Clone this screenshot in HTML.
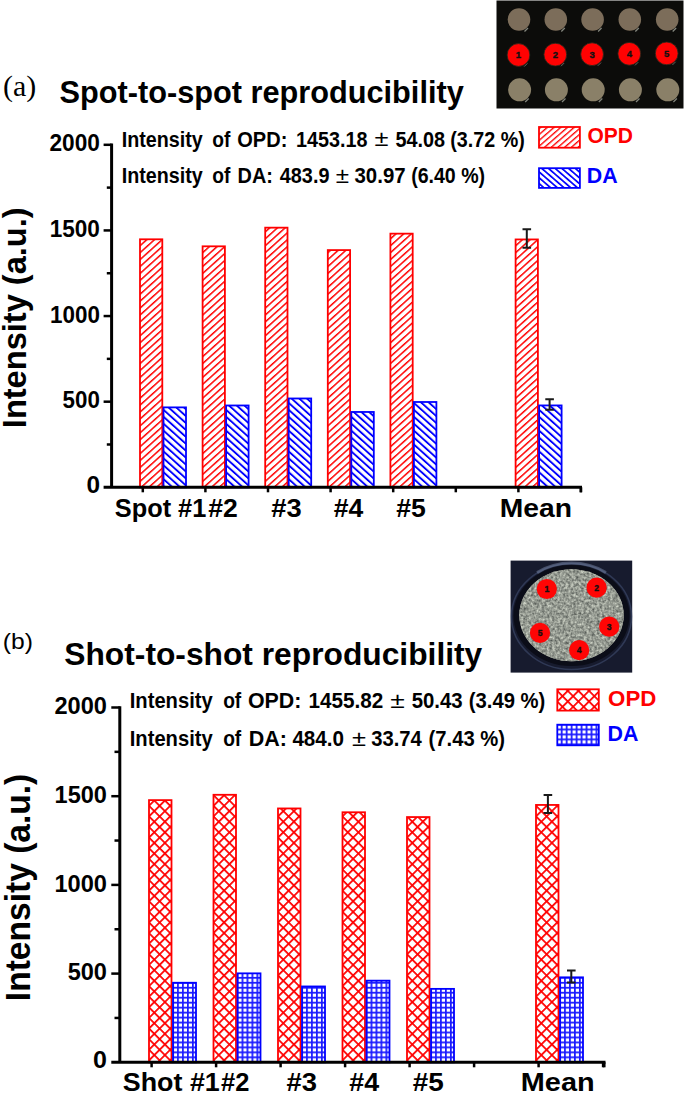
<!DOCTYPE html>
<html><head><meta charset="utf-8"><title>Reproducibility</title>
<style>
html,body{margin:0;padding:0;background:#fff;width:685px;height:1094px;overflow:hidden;}
svg{display:block;}

</style></head>
<body>
<svg width="685" height="1094" viewBox="0 0 685 1094">
<defs>
<filter id="noise" x="0" y="0" width="100%" height="100%" color-interpolation-filters="sRGB">
  <feTurbulence type="fractalNoise" baseFrequency="0.38" numOctaves="2" seed="3" result="n"/>
  <feColorMatrix type="matrix" values="0.7 0 0 0 0.235  0.7 0 0 0 0.255  0.65 0 0 0 0.245  0 0 0 0 1" />
  <feComposite in2="SourceGraphic" operator="in"/>
</filter>
<pattern id="a_opd_0" patternUnits="userSpaceOnUse" width="5.15" height="5.15" patternTransform="translate(140.00 487.30) rotate(48)"><rect x="0" y="0" width="1.5" height="5.15" fill="#ff0000"/></pattern>
<pattern id="a_da_0" patternUnits="userSpaceOnUse" width="5.15" height="5.15" patternTransform="translate(163.50 487.30) rotate(-48)"><rect x="0" y="0" width="1.9" height="5.15" fill="#0000ff"/></pattern>
<pattern id="a_opd_1" patternUnits="userSpaceOnUse" width="5.15" height="5.15" patternTransform="translate(202.60 487.30) rotate(48)"><rect x="0" y="0" width="1.5" height="5.15" fill="#ff0000"/></pattern>
<pattern id="a_da_1" patternUnits="userSpaceOnUse" width="5.15" height="5.15" patternTransform="translate(226.10 487.30) rotate(-48)"><rect x="0" y="0" width="1.9" height="5.15" fill="#0000ff"/></pattern>
<pattern id="a_opd_2" patternUnits="userSpaceOnUse" width="5.15" height="5.15" patternTransform="translate(265.20 487.30) rotate(48)"><rect x="0" y="0" width="1.5" height="5.15" fill="#ff0000"/></pattern>
<pattern id="a_da_2" patternUnits="userSpaceOnUse" width="5.15" height="5.15" patternTransform="translate(288.70 487.30) rotate(-48)"><rect x="0" y="0" width="1.9" height="5.15" fill="#0000ff"/></pattern>
<pattern id="a_opd_3" patternUnits="userSpaceOnUse" width="5.15" height="5.15" patternTransform="translate(327.80 487.30) rotate(48)"><rect x="0" y="0" width="1.5" height="5.15" fill="#ff0000"/></pattern>
<pattern id="a_da_3" patternUnits="userSpaceOnUse" width="5.15" height="5.15" patternTransform="translate(351.30 487.30) rotate(-48)"><rect x="0" y="0" width="1.9" height="5.15" fill="#0000ff"/></pattern>
<pattern id="a_opd_4" patternUnits="userSpaceOnUse" width="5.15" height="5.15" patternTransform="translate(390.40 487.30) rotate(48)"><rect x="0" y="0" width="1.5" height="5.15" fill="#ff0000"/></pattern>
<pattern id="a_da_4" patternUnits="userSpaceOnUse" width="5.15" height="5.15" patternTransform="translate(413.90 487.30) rotate(-48)"><rect x="0" y="0" width="1.9" height="5.15" fill="#0000ff"/></pattern>
<pattern id="a_opd_5" patternUnits="userSpaceOnUse" width="5.15" height="5.15" patternTransform="translate(515.60 487.30) rotate(48)"><rect x="0" y="0" width="1.5" height="5.15" fill="#ff0000"/></pattern>
<pattern id="a_da_5" patternUnits="userSpaceOnUse" width="5.15" height="5.15" patternTransform="translate(539.10 487.30) rotate(-48)"><rect x="0" y="0" width="1.9" height="5.15" fill="#0000ff"/></pattern>
<pattern id="b_opd_0" patternUnits="userSpaceOnUse" width="7.50" height="7.50" patternTransform="translate(149.00 1059.10) rotate(45)"><rect x="0" y="0" width="1.75" height="7.5" fill="#ff0000"/><rect x="0" y="0" width="7.5" height="1.75" fill="#ff0000"/></pattern>
<pattern id="b_da_0" patternUnits="userSpaceOnUse" width="4.97" height="4.97" patternTransform="translate(172.10 1061.40) rotate(0)"><rect x="0" y="0" width="1.75" height="4.97" fill="#1a1aff"/><rect x="0" y="0" width="4.97" height="1.75" fill="#1a1aff"/></pattern>
<pattern id="b_opd_1" patternUnits="userSpaceOnUse" width="7.50" height="7.50" patternTransform="translate(213.50 1059.10) rotate(45)"><rect x="0" y="0" width="1.75" height="7.5" fill="#ff0000"/><rect x="0" y="0" width="7.5" height="1.75" fill="#ff0000"/></pattern>
<pattern id="b_da_1" patternUnits="userSpaceOnUse" width="4.97" height="4.97" patternTransform="translate(236.60 1061.40) rotate(0)"><rect x="0" y="0" width="1.75" height="4.97" fill="#1a1aff"/><rect x="0" y="0" width="4.97" height="1.75" fill="#1a1aff"/></pattern>
<pattern id="b_opd_2" patternUnits="userSpaceOnUse" width="7.50" height="7.50" patternTransform="translate(278.00 1059.10) rotate(45)"><rect x="0" y="0" width="1.75" height="7.5" fill="#ff0000"/><rect x="0" y="0" width="7.5" height="1.75" fill="#ff0000"/></pattern>
<pattern id="b_da_2" patternUnits="userSpaceOnUse" width="4.97" height="4.97" patternTransform="translate(301.10 1061.40) rotate(0)"><rect x="0" y="0" width="1.75" height="4.97" fill="#1a1aff"/><rect x="0" y="0" width="4.97" height="1.75" fill="#1a1aff"/></pattern>
<pattern id="b_opd_3" patternUnits="userSpaceOnUse" width="7.50" height="7.50" patternTransform="translate(342.50 1059.10) rotate(45)"><rect x="0" y="0" width="1.75" height="7.5" fill="#ff0000"/><rect x="0" y="0" width="7.5" height="1.75" fill="#ff0000"/></pattern>
<pattern id="b_da_3" patternUnits="userSpaceOnUse" width="4.97" height="4.97" patternTransform="translate(365.60 1061.40) rotate(0)"><rect x="0" y="0" width="1.75" height="4.97" fill="#1a1aff"/><rect x="0" y="0" width="4.97" height="1.75" fill="#1a1aff"/></pattern>
<pattern id="b_opd_4" patternUnits="userSpaceOnUse" width="7.50" height="7.50" patternTransform="translate(407.00 1059.10) rotate(45)"><rect x="0" y="0" width="1.75" height="7.5" fill="#ff0000"/><rect x="0" y="0" width="7.5" height="1.75" fill="#ff0000"/></pattern>
<pattern id="b_da_4" patternUnits="userSpaceOnUse" width="4.97" height="4.97" patternTransform="translate(430.10 1061.40) rotate(0)"><rect x="0" y="0" width="1.75" height="4.97" fill="#1a1aff"/><rect x="0" y="0" width="4.97" height="1.75" fill="#1a1aff"/></pattern>
<pattern id="b_opd_5" patternUnits="userSpaceOnUse" width="7.50" height="7.50" patternTransform="translate(536.00 1059.10) rotate(45)"><rect x="0" y="0" width="1.75" height="7.5" fill="#ff0000"/><rect x="0" y="0" width="7.5" height="1.75" fill="#ff0000"/></pattern>
<pattern id="b_da_5" patternUnits="userSpaceOnUse" width="4.97" height="4.97" patternTransform="translate(559.10 1061.40) rotate(0)"><rect x="0" y="0" width="1.75" height="4.97" fill="#1a1aff"/><rect x="0" y="0" width="4.97" height="1.75" fill="#1a1aff"/></pattern>
<pattern id="la_opd" patternUnits="userSpaceOnUse" width="4.40" height="4.40" patternTransform="translate(540.00 127.00) rotate(49)"><rect x="0" y="0" width="1.35" height="4.4" fill="#ff0000"/></pattern>
<pattern id="la_da" patternUnits="userSpaceOnUse" width="4.40" height="4.40" patternTransform="translate(540.00 168.00) rotate(-49)"><rect x="0" y="0" width="1.7" height="4.4" fill="#0000ff"/></pattern>
<pattern id="lb_opd" patternUnits="userSpaceOnUse" width="7.50" height="7.50" patternTransform="translate(562.50 694.90) rotate(45)"><rect x="0" y="0" width="1.75" height="7.5" fill="#ff0000"/><rect x="0" y="0" width="7.5" height="1.75" fill="#ff0000"/></pattern>
<pattern id="lb_da" patternUnits="userSpaceOnUse" width="4.97" height="4.97" patternTransform="translate(555.80 723.60) rotate(0)"><rect x="0" y="0" width="1.75" height="4.97" fill="#1a1aff"/><rect x="0" y="0" width="4.97" height="1.75" fill="#1a1aff"/></pattern></defs>
<rect x="0" y="0" width="685" height="1094" fill="#fff"/>
<rect x="496.5" y="0.5" width="187" height="108" fill="#0c0c0a"/>
<circle cx="519.0" cy="19.5" r="11.3" fill="#7c6d5a"/>
<circle cx="519.6" cy="89.8" r="11.5" fill="#8a8068"/>
<path d="M524.5 31.5 l3.5 -3.5" stroke="#b8bcb0" stroke-width="1.2" opacity="0.7"/>
<path d="M525.2 102.0 l3.5 -3.5" stroke="#b8bcb0" stroke-width="1.2" opacity="0.7"/>
<path d="M524.2 66.6 l3.2 -3.2" stroke="#9aa09a" stroke-width="1.0" opacity="0.6"/>
<circle cx="518.5" cy="55.0" r="11.4" fill="#ff0202" stroke="#1c2a1c" stroke-width="0.8"/>
<text x="518.5" y="58.4" font-family="'Liberation Sans',sans-serif" font-weight="bold" font-size="9.5" text-anchor="middle" fill="#111" stroke="#111" stroke-width="0.35">1</text>
<circle cx="555.8" cy="19.5" r="11.3" fill="#7c6d5a"/>
<circle cx="556.4" cy="89.8" r="11.5" fill="#8a8068"/>
<path d="M561.3 31.5 l3.5 -3.5" stroke="#b8bcb0" stroke-width="1.2" opacity="0.7"/>
<path d="M562.0 102.0 l3.5 -3.5" stroke="#b8bcb0" stroke-width="1.2" opacity="0.7"/>
<path d="M561.0 66.2 l3.2 -3.2" stroke="#9aa09a" stroke-width="1.0" opacity="0.6"/>
<circle cx="555.3" cy="54.6" r="11.4" fill="#ff0202" stroke="#1c2a1c" stroke-width="0.8"/>
<text x="555.3" y="58.0" font-family="'Liberation Sans',sans-serif" font-weight="bold" font-size="9.5" text-anchor="middle" fill="#111" stroke="#111" stroke-width="0.35">2</text>
<circle cx="592.6" cy="19.5" r="11.3" fill="#7c6d5a"/>
<circle cx="593.2" cy="89.8" r="11.5" fill="#8a8068"/>
<path d="M598.1 31.5 l3.5 -3.5" stroke="#b8bcb0" stroke-width="1.2" opacity="0.7"/>
<path d="M598.8 102.0 l3.5 -3.5" stroke="#b8bcb0" stroke-width="1.2" opacity="0.7"/>
<path d="M597.8 65.8 l3.2 -3.2" stroke="#9aa09a" stroke-width="1.0" opacity="0.6"/>
<circle cx="592.1" cy="54.2" r="11.4" fill="#ff0202" stroke="#1c2a1c" stroke-width="0.8"/>
<text x="592.1" y="57.6" font-family="'Liberation Sans',sans-serif" font-weight="bold" font-size="9.5" text-anchor="middle" fill="#111" stroke="#111" stroke-width="0.35">3</text>
<circle cx="629.8" cy="19.5" r="11.3" fill="#7c6d5a"/>
<circle cx="630.4" cy="89.8" r="11.5" fill="#8a8068"/>
<path d="M635.3 31.5 l3.5 -3.5" stroke="#b8bcb0" stroke-width="1.2" opacity="0.7"/>
<path d="M636.0 102.0 l3.5 -3.5" stroke="#b8bcb0" stroke-width="1.2" opacity="0.7"/>
<path d="M635.0 65.4 l3.2 -3.2" stroke="#9aa09a" stroke-width="1.0" opacity="0.6"/>
<circle cx="629.3" cy="53.8" r="11.4" fill="#ff0202" stroke="#1c2a1c" stroke-width="0.8"/>
<text x="629.3" y="57.2" font-family="'Liberation Sans',sans-serif" font-weight="bold" font-size="9.5" text-anchor="middle" fill="#111" stroke="#111" stroke-width="0.35">4</text>
<circle cx="667.2" cy="19.5" r="11.3" fill="#7c6d5a"/>
<circle cx="667.8" cy="89.8" r="11.5" fill="#8a8068"/>
<path d="M672.7 31.5 l3.5 -3.5" stroke="#b8bcb0" stroke-width="1.2" opacity="0.7"/>
<path d="M673.4 102.0 l3.5 -3.5" stroke="#b8bcb0" stroke-width="1.2" opacity="0.7"/>
<path d="M672.4 65.0 l3.2 -3.2" stroke="#9aa09a" stroke-width="1.0" opacity="0.6"/>
<circle cx="666.7" cy="53.4" r="11.4" fill="#ff0202" stroke="#1c2a1c" stroke-width="0.8"/>
<text x="666.7" y="56.8" font-family="'Liberation Sans',sans-serif" font-weight="bold" font-size="9.5" text-anchor="middle" fill="#111" stroke="#111" stroke-width="0.35">5</text>
<rect x="510.6" y="560.6" width="121.6" height="112" fill="#171b2e"/>
<ellipse cx="571.5" cy="616.5" rx="60" ry="53" fill="none" stroke="#3a4666" stroke-width="1.6" opacity="0.7"/>
<ellipse cx="571.5" cy="615.6" rx="58" ry="50.5" fill="#0b0d18"/>
<ellipse cx="571.5" cy="615.2" rx="52.2" ry="46" fill="#9a9d90"/>
<ellipse cx="571.5" cy="615.2" rx="52.2" ry="46" fill="#9a9d90" filter="url(#noise)"/>
<path d="M537.1 572.6 A60.0 52.5 0 0 1 605.9 572.6" stroke="#7886a6" stroke-width="3" fill="none" opacity="0.5"/>
<circle cx="546.8" cy="589.0" r="10.1" fill="#ff0505"/>
<text x="546.8" y="592.1" font-family="'Liberation Sans',sans-serif" font-weight="bold" font-size="8.5" text-anchor="middle" fill="#111" stroke="#111" stroke-width="0.35">1</text>
<circle cx="596.6" cy="587.7" r="10.1" fill="#ff0505"/>
<text x="596.6" y="590.8" font-family="'Liberation Sans',sans-serif" font-weight="bold" font-size="8.5" text-anchor="middle" fill="#111" stroke="#111" stroke-width="0.35">2</text>
<circle cx="609.2" cy="626.7" r="10.1" fill="#ff0505"/>
<text x="609.2" y="629.8" font-family="'Liberation Sans',sans-serif" font-weight="bold" font-size="8.5" text-anchor="middle" fill="#111" stroke="#111" stroke-width="0.35">3</text>
<circle cx="579.2" cy="650.2" r="10.1" fill="#ff0505"/>
<text x="579.2" y="653.3" font-family="'Liberation Sans',sans-serif" font-weight="bold" font-size="8.5" text-anchor="middle" fill="#111" stroke="#111" stroke-width="0.35">4</text>
<circle cx="540.0" cy="632.8" r="10.1" fill="#ff0505"/>
<text x="540.0" y="635.9" font-family="'Liberation Sans',sans-serif" font-weight="bold" font-size="8.5" text-anchor="middle" fill="#111" stroke="#111" stroke-width="0.35">5</text>
<rect x="140.00" y="239.30" width="22.30" height="248.00" fill="url(#a_opd_0)" stroke="#ff0000" stroke-width="1.80"/>
<rect x="163.50" y="407.38" width="22.50" height="79.92" fill="url(#a_da_0)" stroke="#0000ff" stroke-width="1.80"/>
<rect x="202.60" y="246.32" width="22.30" height="240.98" fill="url(#a_opd_1)" stroke="#ff0000" stroke-width="1.80"/>
<rect x="226.10" y="405.48" width="22.50" height="81.82" fill="url(#a_da_1)" stroke="#0000ff" stroke-width="1.80"/>
<rect x="265.20" y="227.66" width="22.30" height="259.64" fill="url(#a_opd_2)" stroke="#ff0000" stroke-width="1.80"/>
<rect x="288.70" y="398.48" width="22.50" height="88.82" fill="url(#a_da_2)" stroke="#0000ff" stroke-width="1.80"/>
<rect x="327.80" y="250.09" width="22.30" height="237.21" fill="url(#a_opd_3)" stroke="#ff0000" stroke-width="1.80"/>
<rect x="351.30" y="411.97" width="22.50" height="75.33" fill="url(#a_da_3)" stroke="#0000ff" stroke-width="1.80"/>
<rect x="390.40" y="233.65" width="22.30" height="253.65" fill="url(#a_opd_4)" stroke="#ff0000" stroke-width="1.80"/>
<rect x="413.90" y="401.99" width="22.50" height="85.31" fill="url(#a_da_4)" stroke="#0000ff" stroke-width="1.80"/>
<rect x="515.60" y="239.44" width="22.30" height="247.86" fill="url(#a_opd_5)" stroke="#ff0000" stroke-width="1.80"/>
<rect x="539.10" y="405.43" width="22.50" height="81.87" fill="url(#a_da_5)" stroke="#0000ff" stroke-width="1.80"/>
<path d="M526.80 229.18V247.70M522.50 229.18H531.10M522.50 247.70H531.10" stroke="#1a1a1a" stroke-width="2" fill="none"/>
<path d="M549.60 399.13V409.74M545.30 399.13H553.90M545.30 409.74H553.90" stroke="#1a1a1a" stroke-width="2" fill="none"/>
<path d="M111.60 143.60V487.30" stroke="#000" stroke-width="3" fill="none"/>
<path d="M103.60 487.30H582.00" stroke="#000" stroke-width="3" fill="none"/>
<path d="M103.60 401.68H111.60" stroke="#000" stroke-width="2.5" fill="none"/>
<path d="M103.60 316.05H111.60" stroke="#000" stroke-width="2.5" fill="none"/>
<path d="M103.60 230.43H111.60" stroke="#000" stroke-width="2.5" fill="none"/>
<path d="M103.60 144.80H111.60" stroke="#000" stroke-width="2.5" fill="none"/>
<path d="M106.80 444.49H111.60" stroke="#000" stroke-width="2.5" fill="none"/>
<path d="M106.80 358.86H111.60" stroke="#000" stroke-width="2.5" fill="none"/>
<path d="M106.80 273.24H111.60" stroke="#000" stroke-width="2.5" fill="none"/>
<path d="M106.80 187.61H111.60" stroke="#000" stroke-width="2.5" fill="none"/>
<path d="M142.80 487.30V492.30" stroke="#000" stroke-width="2.5" fill="none"/>
<path d="M205.40 487.30V492.30" stroke="#000" stroke-width="2.5" fill="none"/>
<path d="M268.00 487.30V492.30" stroke="#000" stroke-width="2.5" fill="none"/>
<path d="M330.60 487.30V492.30" stroke="#000" stroke-width="2.5" fill="none"/>
<path d="M393.20 487.30V492.30" stroke="#000" stroke-width="2.5" fill="none"/>
<path d="M455.80 487.30V492.30" stroke="#000" stroke-width="2.5" fill="none"/>
<path d="M518.40 487.30V492.30" stroke="#000" stroke-width="2.5" fill="none"/>
<path d="M581.00 487.30V492.30" stroke="#000" stroke-width="2.5" fill="none"/>
<path d="M580.80 487.30V492.30" stroke="#000" stroke-width="2.5" fill="none"/>
<rect x="149.00" y="800.12" width="22.50" height="262.18" fill="url(#b_opd_0)" stroke="#ff0000" stroke-width="1.80"/>
<rect x="173.00" y="982.75" width="23.00" height="79.55" fill="url(#b_da_0)" stroke="#0000ff" stroke-width="1.80"/>
<rect x="213.50" y="794.79" width="22.50" height="267.51" fill="url(#b_opd_1)" stroke="#ff0000" stroke-width="1.80"/>
<rect x="237.50" y="973.35" width="23.00" height="88.95" fill="url(#b_da_1)" stroke="#0000ff" stroke-width="1.80"/>
<rect x="278.00" y="808.45" width="22.50" height="253.85" fill="url(#b_opd_2)" stroke="#ff0000" stroke-width="1.80"/>
<rect x="302.00" y="986.46" width="23.00" height="75.84" fill="url(#b_da_2)" stroke="#0000ff" stroke-width="1.80"/>
<rect x="342.50" y="812.27" width="22.50" height="250.03" fill="url(#b_opd_3)" stroke="#ff0000" stroke-width="1.80"/>
<rect x="366.50" y="980.66" width="23.00" height="81.64" fill="url(#b_da_3)" stroke="#0000ff" stroke-width="1.80"/>
<rect x="407.00" y="817.06" width="22.50" height="245.24" fill="url(#b_opd_4)" stroke="#ff0000" stroke-width="1.80"/>
<rect x="431.00" y="988.87" width="23.00" height="73.43" fill="url(#b_da_4)" stroke="#0000ff" stroke-width="1.80"/>
<rect x="536.00" y="804.94" width="22.50" height="257.36" fill="url(#b_opd_5)" stroke="#ff0000" stroke-width="1.80"/>
<rect x="560.00" y="977.34" width="23.00" height="84.96" fill="url(#b_da_5)" stroke="#0000ff" stroke-width="1.80"/>
<path d="M547.90 795.09V812.98M543.60 795.09H552.20M543.60 812.98H552.20" stroke="#1a1a1a" stroke-width="2" fill="none"/>
<path d="M571.30 970.45V982.42M567.00 970.45H575.60M567.00 982.42H575.60" stroke="#1a1a1a" stroke-width="2" fill="none"/>
<path d="M119.80 706.30V1062.30" stroke="#000" stroke-width="3" fill="none"/>
<path d="M111.30 1062.30H605.50" stroke="#000" stroke-width="3" fill="none"/>
<path d="M111.30 973.60H119.80" stroke="#000" stroke-width="2.5" fill="none"/>
<path d="M111.30 884.90H119.80" stroke="#000" stroke-width="2.5" fill="none"/>
<path d="M111.30 796.20H119.80" stroke="#000" stroke-width="2.5" fill="none"/>
<path d="M111.30 707.50H119.80" stroke="#000" stroke-width="2.5" fill="none"/>
<path d="M114.50 1017.95H119.80" stroke="#000" stroke-width="2.5" fill="none"/>
<path d="M114.50 929.25H119.80" stroke="#000" stroke-width="2.5" fill="none"/>
<path d="M114.50 840.55H119.80" stroke="#000" stroke-width="2.5" fill="none"/>
<path d="M114.50 751.85H119.80" stroke="#000" stroke-width="2.5" fill="none"/>
<path d="M151.60 1062.30V1067.30" stroke="#000" stroke-width="2.5" fill="none"/>
<path d="M216.10 1062.30V1067.30" stroke="#000" stroke-width="2.5" fill="none"/>
<path d="M280.60 1062.30V1067.30" stroke="#000" stroke-width="2.5" fill="none"/>
<path d="M345.10 1062.30V1067.30" stroke="#000" stroke-width="2.5" fill="none"/>
<path d="M409.60 1062.30V1067.30" stroke="#000" stroke-width="2.5" fill="none"/>
<path d="M474.10 1062.30V1067.30" stroke="#000" stroke-width="2.5" fill="none"/>
<path d="M538.60 1062.30V1067.30" stroke="#000" stroke-width="2.5" fill="none"/>
<path d="M603.10 1062.30V1067.30" stroke="#000" stroke-width="2.5" fill="none"/>
<path d="M604.30 1062.30V1067.30" stroke="#000" stroke-width="2.5" fill="none"/>
<text x="3.08" y="96.20" font-family="'Liberation Serif',serif" font-weight="normal" font-size="29.00" fill="#000" textLength="33.23" lengthAdjust="spacingAndGlyphs">(a)</text>
<text x="59.52" y="103.30" font-family="'Liberation Sans',sans-serif" font-weight="bold" font-size="30.50" fill="#000" textLength="404.25" lengthAdjust="spacingAndGlyphs">Spot-to-spot reproducibility</text>
<text x="121.78" y="146.50" font-family="'Liberation Sans',sans-serif" font-weight="bold" font-size="21.30" fill="#000" textLength="81.02" lengthAdjust="spacingAndGlyphs">Intensity</text>
<text x="212.35" y="146.50" font-family="'Liberation Sans',sans-serif" font-weight="bold" font-size="21.30" fill="#000" textLength="18.11" lengthAdjust="spacingAndGlyphs">of</text>
<text x="237.28" y="146.50" font-family="'Liberation Sans',sans-serif" font-weight="bold" font-size="21.30" fill="#000" textLength="50.05" lengthAdjust="spacingAndGlyphs">OPD:</text>
<text x="295.95" y="146.50" font-family="'Liberation Sans',sans-serif" font-weight="bold" font-size="21.30" fill="#000" textLength="71.45" lengthAdjust="spacingAndGlyphs">1453.18</text>
<text x="395.39" y="146.50" font-family="'Liberation Sans',sans-serif" font-weight="bold" font-size="21.30" fill="#000" textLength="49.62" lengthAdjust="spacingAndGlyphs">54.08</text>
<text x="450.32" y="146.50" font-family="'Liberation Sans',sans-serif" font-weight="bold" font-size="21.30" fill="#000" textLength="74.46" lengthAdjust="spacingAndGlyphs">(3.72 %)</text>
<text x="374.59" y="146.00" font-family="'Liberation Sans',sans-serif" font-weight="normal" font-size="21.30" fill="#000" textLength="14.01" lengthAdjust="spacingAndGlyphs">±</text>
<text x="121.78" y="183.40" font-family="'Liberation Sans',sans-serif" font-weight="bold" font-size="21.30" fill="#000" textLength="81.02" lengthAdjust="spacingAndGlyphs">Intensity</text>
<text x="212.35" y="183.40" font-family="'Liberation Sans',sans-serif" font-weight="bold" font-size="21.30" fill="#000" textLength="18.11" lengthAdjust="spacingAndGlyphs">of</text>
<text x="237.57" y="183.40" font-family="'Liberation Sans',sans-serif" font-weight="bold" font-size="21.30" fill="#000" textLength="35.34" lengthAdjust="spacingAndGlyphs">DA:</text>
<text x="279.80" y="183.40" font-family="'Liberation Sans',sans-serif" font-weight="bold" font-size="21.30" fill="#000" textLength="49.64" lengthAdjust="spacingAndGlyphs">483.9</text>
<text x="354.53" y="183.40" font-family="'Liberation Sans',sans-serif" font-weight="bold" font-size="21.30" fill="#000" textLength="51.07" lengthAdjust="spacingAndGlyphs">30.97</text>
<text x="411.13" y="183.40" font-family="'Liberation Sans',sans-serif" font-weight="bold" font-size="21.30" fill="#000" textLength="73.95" lengthAdjust="spacingAndGlyphs">(6.40 %)</text>
<text x="335.83" y="183.00" font-family="'Liberation Sans',sans-serif" font-weight="normal" font-size="21.30" fill="#000" textLength="13.33" lengthAdjust="spacingAndGlyphs">±</text>
<rect x="539.0" y="127.0" width="40.9" height="20.7" fill="url(#la_opd)" stroke="#ff0000" stroke-width="1.8"/>
<rect x="539.0" y="168.2" width="40.9" height="19.7" fill="url(#la_da)" stroke="#0000ff" stroke-width="1.8"/>
<text x="587.44" y="143.00" font-family="'Liberation Sans',sans-serif" font-weight="bold" font-size="21.50" fill="#ff0000" textLength="45.54" lengthAdjust="spacingAndGlyphs">OPD</text>
<text x="586.87" y="183.30" font-family="'Liberation Sans',sans-serif" font-weight="bold" font-size="21.50" fill="#0000ff" textLength="30.89" lengthAdjust="spacingAndGlyphs">DA</text>
<text x="49.51" y="151.30" font-family="'Liberation Sans',sans-serif" font-weight="bold" font-size="23.20" fill="#000" textLength="50.42" lengthAdjust="spacingAndGlyphs">2000</text>
<text x="49.68" y="237.00" font-family="'Liberation Sans',sans-serif" font-weight="bold" font-size="23.20" fill="#000" textLength="50.25" lengthAdjust="spacingAndGlyphs">1500</text>
<text x="49.99" y="322.90" font-family="'Liberation Sans',sans-serif" font-weight="bold" font-size="23.20" fill="#000" textLength="49.93" lengthAdjust="spacingAndGlyphs">1000</text>
<text x="62.61" y="407.90" font-family="'Liberation Sans',sans-serif" font-weight="bold" font-size="23.20" fill="#000" textLength="37.30" lengthAdjust="spacingAndGlyphs">500</text>
<text x="86.44" y="492.90" font-family="'Liberation Sans',sans-serif" font-weight="bold" font-size="23.20" fill="#000" textLength="13.57" lengthAdjust="spacingAndGlyphs">0</text>
<text x="114.77" y="516.60" font-family="'Liberation Sans',sans-serif" font-weight="bold" font-size="26.00" fill="#000" textLength="91.54" lengthAdjust="spacingAndGlyphs">Spot #1</text>
<text x="208.15" y="516.60" font-family="'Liberation Sans',sans-serif" font-weight="bold" font-size="26.00" fill="#000" textLength="29.52" lengthAdjust="spacingAndGlyphs">#2</text>
<text x="271.33" y="516.60" font-family="'Liberation Sans',sans-serif" font-weight="bold" font-size="26.00" fill="#000" textLength="30.35" lengthAdjust="spacingAndGlyphs">#3</text>
<text x="333.65" y="516.60" font-family="'Liberation Sans',sans-serif" font-weight="bold" font-size="26.00" fill="#000" textLength="29.50" lengthAdjust="spacingAndGlyphs">#4</text>
<text x="396.15" y="516.60" font-family="'Liberation Sans',sans-serif" font-weight="bold" font-size="26.00" fill="#000" textLength="29.60" lengthAdjust="spacingAndGlyphs">#5</text>
<text x="499.81" y="516.60" font-family="'Liberation Sans',sans-serif" font-weight="bold" font-size="26.00" fill="#000" textLength="72.24" lengthAdjust="spacingAndGlyphs">Mean</text>
<g transform="translate(26.30 426.00) rotate(-90)"><text x="-2.18" y="0.00" font-family="'Liberation Sans',sans-serif" font-weight="bold" font-size="33.40" fill="#000" textLength="220.80" lengthAdjust="spacingAndGlyphs">Intensity (a.u.)</text></g>
<text x="2.87" y="649.30" font-family="'Liberation Sans',sans-serif" font-weight="normal" font-size="22.60" fill="#000" textLength="30.16" lengthAdjust="spacingAndGlyphs">(b)</text>
<text x="64.29" y="664.70" font-family="'Liberation Sans',sans-serif" font-weight="bold" font-size="30.50" fill="#000" textLength="417.99" lengthAdjust="spacingAndGlyphs">Shot-to-shot reproducibility</text>
<text x="129.75" y="708.40" font-family="'Liberation Sans',sans-serif" font-weight="bold" font-size="21.30" fill="#000" textLength="82.96" lengthAdjust="spacingAndGlyphs">Intensity</text>
<text x="223.15" y="708.40" font-family="'Liberation Sans',sans-serif" font-weight="bold" font-size="21.30" fill="#000" textLength="18.11" lengthAdjust="spacingAndGlyphs">of</text>
<text x="247.92" y="708.40" font-family="'Liberation Sans',sans-serif" font-weight="bold" font-size="21.30" fill="#000" textLength="53.43" lengthAdjust="spacingAndGlyphs">OPD:</text>
<text x="308.60" y="708.40" font-family="'Liberation Sans',sans-serif" font-weight="bold" font-size="21.30" fill="#000" textLength="74.73" lengthAdjust="spacingAndGlyphs">1455.82</text>
<text x="411.67" y="708.40" font-family="'Liberation Sans',sans-serif" font-weight="bold" font-size="21.30" fill="#000" textLength="50.96" lengthAdjust="spacingAndGlyphs">50.43</text>
<text x="468.79" y="708.40" font-family="'Liberation Sans',sans-serif" font-weight="bold" font-size="21.30" fill="#000" textLength="76.52" lengthAdjust="spacingAndGlyphs">(3.49 %)</text>
<text x="390.36" y="708.00" font-family="'Liberation Sans',sans-serif" font-weight="normal" font-size="21.30" fill="#000" textLength="14.57" lengthAdjust="spacingAndGlyphs">±</text>
<text x="129.75" y="746.00" font-family="'Liberation Sans',sans-serif" font-weight="bold" font-size="21.30" fill="#000" textLength="82.96" lengthAdjust="spacingAndGlyphs">Intensity</text>
<text x="223.15" y="746.00" font-family="'Liberation Sans',sans-serif" font-weight="bold" font-size="21.30" fill="#000" textLength="18.11" lengthAdjust="spacingAndGlyphs">of</text>
<text x="248.76" y="746.00" font-family="'Liberation Sans',sans-serif" font-weight="bold" font-size="21.30" fill="#000" textLength="38.21" lengthAdjust="spacingAndGlyphs">DA:</text>
<text x="292.39" y="746.00" font-family="'Liberation Sans',sans-serif" font-weight="bold" font-size="21.30" fill="#000" textLength="51.66" lengthAdjust="spacingAndGlyphs">484.0</text>
<text x="371.24" y="746.00" font-family="'Liberation Sans',sans-serif" font-weight="bold" font-size="21.30" fill="#000" textLength="50.57" lengthAdjust="spacingAndGlyphs">33.74</text>
<text x="428.59" y="746.00" font-family="'Liberation Sans',sans-serif" font-weight="bold" font-size="21.30" fill="#000" textLength="76.52" lengthAdjust="spacingAndGlyphs">(7.43 %)</text>
<text x="352.09" y="745.60" font-family="'Liberation Sans',sans-serif" font-weight="normal" font-size="21.30" fill="#000" textLength="14.01" lengthAdjust="spacingAndGlyphs">±</text>
<rect x="557.3" y="689.3" width="41.5" height="21.3" fill="url(#lb_opd)" stroke="#ff0000" stroke-width="1.8"/>
<rect x="557.3" y="724.7" width="41.5" height="20.6" fill="url(#lb_da)" stroke="#0000ff" stroke-width="1.8"/>
<text x="608.09" y="706.30" font-family="'Liberation Sans',sans-serif" font-weight="bold" font-size="22.80" fill="#ff0000" textLength="48.25" lengthAdjust="spacingAndGlyphs">OPD</text>
<text x="607.57" y="741.30" font-family="'Liberation Sans',sans-serif" font-weight="bold" font-size="22.80" fill="#0000ff" textLength="30.89" lengthAdjust="spacingAndGlyphs">DA</text>
<text x="54.48" y="714.30" font-family="'Liberation Sans',sans-serif" font-weight="bold" font-size="23.80" fill="#000" textLength="52.49" lengthAdjust="spacingAndGlyphs">2000</text>
<text x="54.62" y="802.70" font-family="'Liberation Sans',sans-serif" font-weight="bold" font-size="23.80" fill="#000" textLength="52.35" lengthAdjust="spacingAndGlyphs">1500</text>
<text x="54.41" y="891.50" font-family="'Liberation Sans',sans-serif" font-weight="bold" font-size="23.80" fill="#000" textLength="52.56" lengthAdjust="spacingAndGlyphs">1000</text>
<text x="67.68" y="979.80" font-family="'Liberation Sans',sans-serif" font-weight="bold" font-size="23.80" fill="#000" textLength="39.29" lengthAdjust="spacingAndGlyphs">500</text>
<text x="93.11" y="1067.90" font-family="'Liberation Sans',sans-serif" font-weight="bold" font-size="23.80" fill="#000" textLength="13.92" lengthAdjust="spacingAndGlyphs">0</text>
<text x="122.83" y="1090.60" font-family="'Liberation Sans',sans-serif" font-weight="bold" font-size="26.50" fill="#000" textLength="96.92" lengthAdjust="spacingAndGlyphs">Shot #1</text>
<text x="221.06" y="1090.60" font-family="'Liberation Sans',sans-serif" font-weight="bold" font-size="26.50" fill="#000" textLength="28.36" lengthAdjust="spacingAndGlyphs">#2</text>
<text x="286.53" y="1090.60" font-family="'Liberation Sans',sans-serif" font-weight="bold" font-size="26.50" fill="#000" textLength="30.46" lengthAdjust="spacingAndGlyphs">#3</text>
<text x="349.24" y="1090.60" font-family="'Liberation Sans',sans-serif" font-weight="bold" font-size="26.50" fill="#000" textLength="29.90" lengthAdjust="spacingAndGlyphs">#4</text>
<text x="412.72" y="1090.60" font-family="'Liberation Sans',sans-serif" font-weight="bold" font-size="26.50" fill="#000" textLength="31.05" lengthAdjust="spacingAndGlyphs">#5</text>
<text x="520.77" y="1090.60" font-family="'Liberation Sans',sans-serif" font-weight="bold" font-size="26.50" fill="#000" textLength="73.82" lengthAdjust="spacingAndGlyphs">Mean</text>
<g transform="translate(30.30 998.90) rotate(-90)"><text x="-2.24" y="0.00" font-family="'Liberation Sans',sans-serif" font-weight="bold" font-size="34.40" fill="#000" textLength="227.42" lengthAdjust="spacingAndGlyphs">Intensity (a.u.)</text></g>
</svg>
</body></html>
